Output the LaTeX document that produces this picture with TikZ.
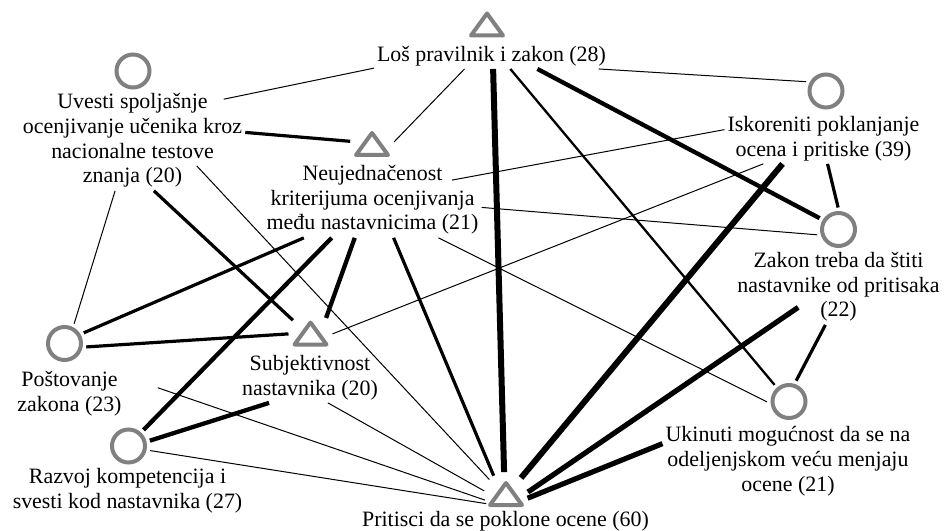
\documentclass[tikz,border=0pt]{standalone}
\usepackage{fontspec}
\setmainfont{Liberation Serif}

\definecolor{siva}{RGB}{128,128,128}

\tikzset{
  krug/.style={circle, draw=siva, line width=4bp, fill=white, minimum size=33bp, inner sep=0pt, outer sep=5.5bp},
  tacka/.style={circle, minimum size=33bp, inner sep=0pt, outer sep=5.5bp},
  trougao/.style={draw=siva, line width=4bp, line join=round, fill=white},
  oznaka/.style={align=center, inner sep=3bp, font=\fontsize{22}{25}\selectfont},
  w1/.style={line width=1bp},
  w2/.style={line width=2.3bp},
  w3/.style={line width=3.2bp},
  w4/.style={line width=4.3bp},
  w5/.style={line width=5.2bp},
  w6/.style={line width=6bp}
}

\begin{document}
\begin{tikzpicture}[x=1bp, y=-1bp]
    \useasboundingbox (0,0) rectangle (948,531);

    % simboli
    \node[tacka] (sLos) at (487,24.5) {};
    \node[krug] (sUvesti) at (133,71) {};
    \node[tacka] (sNeuj) at (372,144) {};
    \node[krug] (sIskor) at (826,91) {};
    \node[krug] (sZakon) at (838.5,229.5) {};
    \node[krug] (sPostov) at (64.5,343.5) {};
    \node[tacka] (sSubj) at (310.5,333.5) {};
    \node[krug] (sRazvoj) at (128.5,446) {};
    \node[tacka] (sPritisci) at (506,494) {};
    \node[krug] (sUkinuti) at (789,401.5) {};
    \foreach \t in {sLos,sNeuj,sSubj,sPritisci}
        \draw[trougao] (\t.center) ++(-16,11) -- ++(32,0) -- ++(-16,-22) -- cycle;

    % oznake
    \node[oznaka] (tLos) at (491.5,55.8) {Loš pravilnik i zakon (28)};
    \node[oznaka] (tUvesti) at (132.5,140.3) {Uvesti spoljašnje\\ocenjivanje učenika kroz\\nacionalne testove\\znanja (20)};
    \node[oznaka] (tNeuj) at (372.5,199.8) {Neujednačenost\\kriterijuma ocenjivanja\\među nastavnicima (21)};
    \node[oznaka] (tIskor) at (823.5,138.3) {Iskoreniti poklanjanje\\ocena i pritiske (39)};
    \node[oznaka] (tZakon) at (838.5,286.8) {Zakon treba da štiti\\nastavnike od pritisaka\\(22)};
    \node[oznaka] (tPostov) at (69.5,393.3) {Poštovanje\\zakona (23)};
    \node[oznaka] (tSubj) at (310,377.3) {Subjektivnost\\nastavnika (20)};
    \node[oznaka] (tRazvoj) at (127.5,490.8) {Razvoj kompetencija i\\svesti kod nastavnika (27)};
    \node[oznaka] (tPritisci) at (505.5,520.8) {Pritisci da se poklone ocene (60)};
    \node[oznaka] (tUkinuti) at (788,461.3) {Ukinuti mogućnost da se na\\odeljenjskom veću menjaju\\ocene (21)};

    % veze
    \draw[w1, shorten >=-22bp] (tLos.186) -- (tUvesti.22);
    \draw[w1] (tLos.206) -- (sNeuj.5);
    \draw[w1] (tLos.353) -- (sIskor.155);
    \draw[w4] (tLos.344) -- (sZakon.149);
    \draw[w6] (tLos.277) -- (sPritisci.95);
    \draw[w2] (tLos.325) -- (sUkinuti.131);
    \draw[w3] (tUvesti.4) -- (sNeuj.173);
    \draw[w1] (tUvesti.251) -- (sPostov.64);
    \draw[w3] (tUvesti.293) -- (sSubj.143);
    \draw[w1, shorten <=-34bp] (tUvesti.330) -- (sPritisci.139);
    \draw[w1, shorten <=-30bp] (tNeuj.13) -- (tIskor.175);
    \draw[w1] (tNeuj.356) -- (sZakon.194);
    \draw[w3] (tNeuj.209) -- (sPostov.29);
    \draw[w4] (tNeuj.223) -- (sRazvoj.47);
    \draw[w4] (tNeuj.245) -- (sSubj.45);
    \draw[w3] (tNeuj.299) -- (sPritisci.124);
    \draw[w1] (tNeuj.330) -- (sUkinuti.181);
    \draw[w3] (tIskor.279) -- (sZakon.91);
    \draw[w1] (tIskor.203) -- (sSubj.359);
    \draw[w6] (tIskor.212) -- (sPritisci.47);
    \draw[w5, shorten <=-31bp] (tZakon.210) -- (sPritisci.5);
    \draw[w3] (tZakon.251) -- (sUkinuti.71);
    \draw[w3] (sPostov.351) -- (sSubj.181);
    \draw[w1, shorten <=35bp] (tPostov.17) -- (sPritisci.196);
    \draw[w4] (sRazvoj.14) -- (tSubj.212);
    \draw[w1] (tSubj.305) -- (sPritisci.172);
    \draw[w1] (sRazvoj.348) -- (sPritisci.206);
    \draw[w5] (tUkinuti.172) -- (sPritisci.349);
\end{tikzpicture}
\end{document}
